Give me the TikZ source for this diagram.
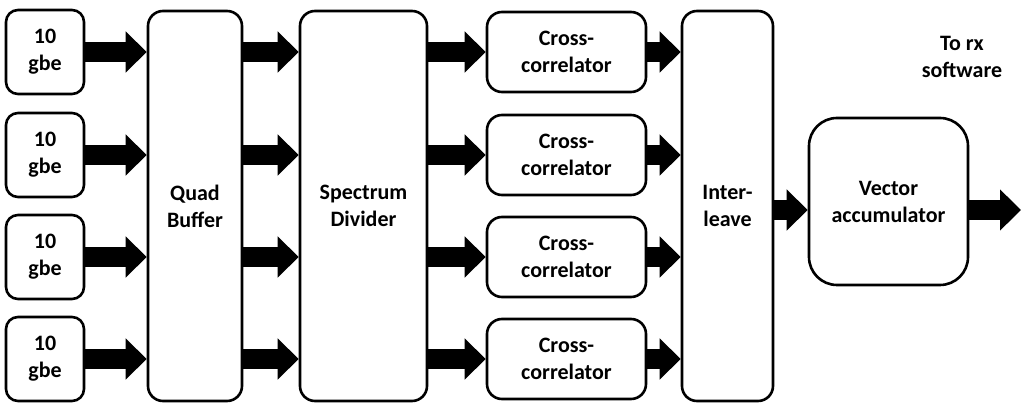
\documentclass[tikz,border=0pt]{standalone}
\usepackage{fontspec}
\setmainfont{Carlito}
\usetikzlibrary{arrows.meta}
\begin{document}
\begin{tikzpicture}[x=1pt,y=-1pt,
  box/.style={draw,line width=2.6pt,rounded corners=#1,align=center,inner sep=0pt,
    font=\bfseries\fontsize{22}{27}\selectfont},
  box/.default=12pt,
  lbl/.style={align=center,inner sep=0pt,font=\bfseries\fontsize{22}{27}\selectfont},
  fat/.style={line width=20pt,-{Triangle[length=21pt,width=40pt]}}]
\useasboundingbox (0,0) rectangle (1021,403);
% 10 gbe inputs
\foreach \i/\y in {1/52,2/155,3/257,4/359}{
  \node[box, minimum width=78pt, minimum height=84pt] (g\i) at (45,\y) {10\\gbe};
  \node[box=15pt, minimum width=159pt, minimum height=80pt] (c\i) at (566.5,\y) {Cross-\\correlator};
}
\node[box=15pt, minimum width=94pt, minimum height=390pt] (qb) at (195,206) {Quad\\Buffer};
\node[box=15pt, minimum width=127pt, minimum height=390pt] (sd) at (363.5,206) {Spectrum\\Divider};
\node[box=15pt, minimum width=91pt, minimum height=390pt] (il) at (727.5,206) {Inter-\\leave};
\node[box=28pt, minimum width=159pt, minimum height=167pt] (va) at (888.5,201.5) {Vector\\accumulator};
\node[lbl] (rx) at (962,57) {To rx\\software};
\coordinate (out) at (1021,210);
\foreach \i in {1,2,3,4}{
  \draw[fat] (g\i.east) -- (qb.west |- g\i.east);
  \draw[fat] (qb.east |- g\i.east) -- (sd.west |- g\i.east);
  \draw[fat] (sd.east |- c\i.west) -- (c\i.west);
  \draw[fat] (c\i.east) -- (il.west |- c\i.east);
}
\draw[fat] (il.east |- out) -- (va.west |- out);
\draw[fat] (va.east |- out) -- (out);
\end{tikzpicture}
\end{document}
